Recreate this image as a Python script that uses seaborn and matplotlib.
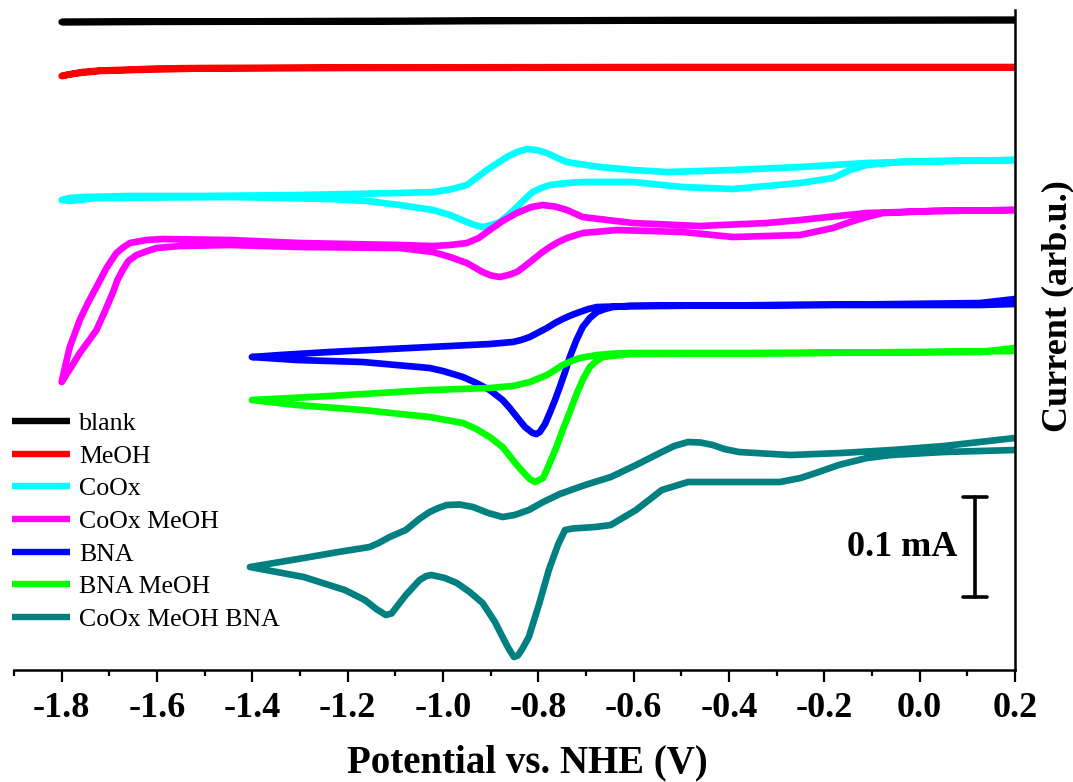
import numpy as np
import pandas as pd
import matplotlib
matplotlib.use("Agg")
import matplotlib.pyplot as plt
from matplotlib.ticker import MultipleLocator, FormatStrFormatter
import seaborn as sns

# ---------------- data (potential in V vs NHE, current in uA incl. stacking offset) -------------
labels = ["blank", "MeOH", "CoOx", "CoOx MeOH", "BNA", "BNA MeOH", "CoOx MeOH BNA"]
colors = ["#000000", "#FF0000", "#00FFFF", "#FF00FF", "#0000FF", "#00FF00", "#008080"]

blank_v = [0.200, -0.500, -1.200, -1.800, -1.200, -0.500, 0.200]
blank_i = [650, 650, 649, 648, 648.5, 649.5, 650]

meoh_v = [0.200, -0.500, -1.200, -1.510, -1.600, -1.651, -1.720, -1.756, -1.780, -1.800,
          -1.785, -1.762, -1.720, -1.651, -1.510, -1.200, -0.500, 0.200]
meoh_i = [603, 603, 602.5, 602, 601.5, 600.5, 599.5, 598, 596, 594,
          595.5, 597, 599, 600, 601.5, 602, 602.5, 602.5]

coox_v = [0.200, 0.028, -0.111, -0.251, -0.392, -0.530, -0.600, -0.671, -0.700, -0.740, -0.760,
          -0.782, -0.803, -0.824, -0.845, -0.866, -0.908, -0.930, -0.950, -0.985, -1.021,
          -1.091, -1.301, -1.510, -1.657, -1.756, -1.783, -1.800,
          -1.783, -1.727, -1.447, -1.238, -1.160, -1.091, -1.021, -0.985, -0.950, -0.934,
          -0.917, -0.899, -0.881, -0.863, -0.845, -0.828, -0.812, -0.794, -0.776, -0.740,
          -0.707, -0.602, -0.497, -0.392, -0.251, -0.182, -0.146, -0.111, -0.041, 0.200]
coox_i = [510, 509, 507, 503, 500, 498, 500, 503, 505, 508, 512,
          517, 520, 521, 518, 513, 500, 492, 485, 480.5, 478,
          477, 475, 474, 474, 473, 472, 470,
          469, 472, 473, 471, 469, 465, 460, 455, 448, 445,
          443, 445, 448, 455, 463, 471, 478, 482, 485, 487,
          488, 488, 483, 481, 487, 492, 500, 505, 508, 510]

cooxmeoh_v = [0.200, 0.028, -0.111, -0.251, -0.321, -0.461, -0.602, -0.655, -0.707, -0.740,
              -0.765, -0.791, -0.815, -0.845, -0.875, -0.902, -0.925, -0.950, -0.985, -1.021,
              -1.091, -1.301, -1.447, -1.588, -1.622, -1.657, -1.670, -1.685, -1.695, -1.706,
              -1.716, -1.727, -1.745, -1.762, -1.783, -1.792, -1.800,
              -1.780, -1.762, -1.745, -1.727, -1.710, -1.693, -1.683, -1.672, -1.660, -1.643,
              -1.620, -1.601, -1.552, -1.447, -1.301, -1.091, -1.021, -0.985, -0.950, -0.917,
              -0.899, -0.881, -0.863, -0.845, -0.828, -0.812, -0.794, -0.776, -0.758, -0.740,
              -0.707, -0.635, -0.497, -0.392, -0.251, -0.182, -0.146, -0.111, -0.077, 0.028, 0.200]
cooxmeoh_i = [460, 459, 457, 450, 447, 444, 447, 450, 453, 460,
              463.5, 465, 463, 457, 449, 440, 432, 427, 425, 424,
              425, 427, 430, 431, 430, 427, 423, 417, 410, 402,
              393, 383, 367, 350, 323, 305, 288,
              303, 317, 328, 340, 358, 377, 390, 400, 409, 415,
              419, 422, 424, 425, 423, 422, 418, 413, 407, 398,
              394.5, 393, 395, 398, 404, 410, 417, 423, 428, 432,
              437, 440, 438, 433, 435, 442, 448, 453, 457, 459, 460]

bna_v = [0.200, 0.127, -0.041, -0.251, -0.608, -0.640, -0.677, -0.695, -0.713, -0.730,
         -0.749, -0.765, -0.782, -0.800, -0.818, -0.836, -0.854, -0.902, -1.028, -1.238,
         -1.342, -1.401,
         -1.307, -1.168, -1.028, -1.000, -0.958, -0.930, -0.902, -0.875, -0.860, -0.845,
         -0.828, -0.812, -0.804, -0.797, -0.786, -0.776, -0.765, -0.755, -0.744, -0.734,
         -0.720, -0.707, -0.692, -0.677, -0.660, -0.644, -0.608, -0.251, 0.127, 0.200]
bna_i = [371, 367, 366, 365, 364, 363.5, 363, 361, 358, 355,
         351, 347, 342, 337.5, 333, 330, 328, 326, 323, 318,
         315, 313,
         310, 308, 302, 299, 293, 287, 280, 270, 262, 253,
         243, 237, 236, 238, 246, 257, 270, 283, 298, 313,
         330, 343, 352, 358, 361, 363, 364, 365, 365, 366]

bnameoh_v = [0.200, 0.127, -0.251, -0.608, -0.640, -0.677, -0.695, -0.713, -0.730, -0.749,
             -0.765, -0.782, -0.800, -0.818, -0.836, -0.854, -0.902, -1.028, -1.238, -1.401,
             -1.307, -1.168, -1.028, -0.958, -0.930, -0.902, -0.875, -0.860, -0.845, -0.830,
             -0.818, -0.807, -0.790, -0.776, -0.762, -0.749, -0.734, -0.719, -0.705, -0.692,
             -0.678, -0.665, -0.608, -0.251, 0.200]
bnameoh_i = [322, 318, 317, 317, 316.5, 315, 313.5, 312, 309, 305,
             300, 295, 291.5, 288, 286, 284, 282, 280, 274, 270,
             265, 260, 253, 247, 241, 233, 223, 214, 205, 197,
             191, 188, 192, 207, 223, 240, 258, 277, 292, 303,
             309, 313, 316, 317, 319]

all_v = [0.200, 0.051, -0.058, -0.165, -0.272, -0.379, -0.410, -0.434, -0.460, -0.486,
         -0.515, -0.541, -0.595, -0.648, -0.702, -0.755, -0.790, -0.820, -0.850, -0.875,
         -0.905, -0.937, -0.965, -0.992, -1.010, -1.028, -1.050, -1.078, -1.112, -1.135,
         -1.154, -1.220, -1.292, -1.405,
         -1.292, -1.206, -1.164, -1.140, -1.120, -1.108, -1.099, -1.078, -1.049, -1.035,
         -1.024, -0.996, -0.971, -0.944, -0.917, -0.891, -0.875, -0.863, -0.851, -0.843,
         -0.835, -0.820, -0.799, -0.778, -0.759, -0.744, -0.728, -0.713, -0.681, -0.648,
         -0.595, -0.541, -0.486, -0.400, -0.293, -0.250, -0.218, -0.170, -0.111, -0.060,
         0.051, 0.200]
all_i = [232, 224, 220, 217, 215, 218, 221, 225, 227.5, 228,
         224, 218, 205, 193, 185, 176, 168, 160, 155, 153,
         157, 163, 165.5, 165, 162, 158, 151, 140, 133, 127,
         123, 118, 112, 103,
         93, 80, 70, 61, 55, 56.5, 62, 75, 90, 94,
         95, 92, 87, 78, 67, 48, 33, 22, 13, 14.5,
         20, 33, 65, 100, 125, 140, 141.5, 142, 143, 145,
         160, 180, 188, 188, 188, 192, 197, 205, 212, 215,
         218, 220]

curves = [(blank_v, blank_i), (meoh_v, meoh_i), (coox_v, coox_i), (cooxmeoh_v, cooxmeoh_i),
          (bna_v, bna_i), (bnameoh_v, bnameoh_i), (all_v, all_i)]

xticks = [-1.8, -1.6, -1.4, -1.2, -1.0, -0.8, -0.6, -0.4, -0.2, 0.0, 0.2]
scale_bar_ua = 100  # 0.1 mA

# ---------------- figure ----------------
sns.set_style("ticks")
plt.rcParams["font.family"] = ["Liberation Serif", "DejaVu Serif"]
plt.rcParams["axes.unicode_minus"] = False
plt.rcParams["text.color"] = "black"
plt.rcParams["axes.labelcolor"] = "black"
plt.rcParams["xtick.color"] = "black"
plt.rcParams["ytick.color"] = "black"
plt.rcParams["axes.edgecolor"] = "black"

fig = plt.figure(figsize=(10.73, 7.82), dpi=100)
ax = fig.add_axes([0.01305, 0.1432, 0.9329, 0.8440])

for (v, i), lab, col in zip(curves, labels, colors):
    df = pd.DataFrame({"E": v, "I": i})
    sns.lineplot(data=df, x="E", y="I", sort=False, estimator=None, color=col,
                 linewidth=4.8, label=lab, ax=ax, solid_capstyle="round",
                 solid_joinstyle="round")

ax.set_xlim(-1.9, 0.2)
ax.set_ylim(0, 660)

# spines
for s in ["top", "left"]:
    ax.spines[s].set_visible(False)
for s in ["bottom", "right"]:
    ax.spines[s].set_linewidth(1.8)
    ax.spines[s].set_color("black")

ax.set_xticks(xticks)
ax.xaxis.set_major_formatter(FormatStrFormatter("%.1f"))
ax.xaxis.set_minor_locator(MultipleLocator(0.1))
ax.tick_params(axis="x", which="major", direction="out", length=8.5, width=1.6,
               labelsize=26, pad=7, colors="black")
ax.tick_params(axis="x", which="minor", direction="out", length=4, width=1.6, colors="black")
for t in ax.get_xticklabels():
    t.set_fontweight("bold")
ax.set_yticks([])

ax.set_xlabel("Potential vs. NHE (V)", fontsize=28, fontweight="bold", labelpad=14, color="black")
ax.xaxis.label.set_x(0.5125)
ax.yaxis.set_label_position("right")
ax.set_ylabel("Current (arb.u.)", fontsize=26, fontweight="bold", labelpad=19, color="black")
ax.yaxis.label.set_y(0.5515)

# scale bar
bar_x = 0.116
ax.plot([bar_x, bar_x], [73, 73 + scale_bar_ua], color="black", linewidth=2.6)
ax.plot([bar_x - 0.025, bar_x + 0.025], [73, 73], color="black", linewidth=2.6)
ax.plot([bar_x - 0.025, bar_x + 0.025], [73 + scale_bar_ua, 73 + scale_bar_ua], color="black", linewidth=2.6)
ax.text(0.080, 73 + scale_bar_ua / 2, "0.1 mA", fontsize=26, fontweight="bold",
        ha="right", va="center", color="black")

leg = ax.legend(loc="upper left", bbox_to_anchor=(0.0112, 0.473), bbox_transform=fig.transFigure,
                frameon=False, fontsize=18.6, borderpad=0, borderaxespad=0,
                handlelength=2.25, handletextpad=0.35, labelspacing=0.37)
for line in leg.get_lines():
    line.set_linewidth(4.6)
    line.set_solid_capstyle("butt")
for t in leg.get_texts():
    t.set_color("black")

fig.savefig("out.png", dpi=100)
